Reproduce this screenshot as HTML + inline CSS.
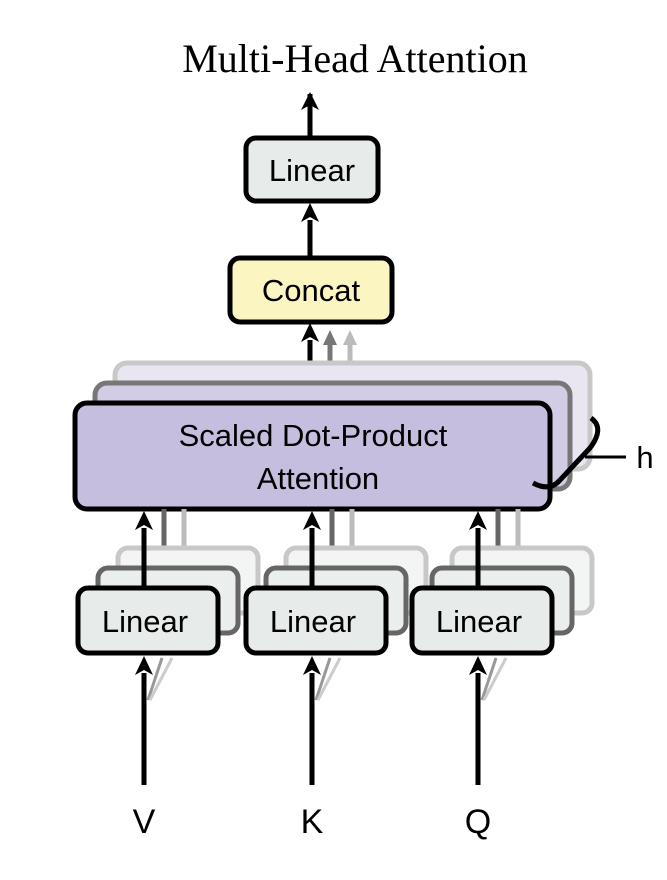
<!DOCTYPE html>
<html><head><style>
body{margin:0;background:#fff;}
</style></head><body>
<svg width="667" height="875" viewBox="0 0 667 875" xmlns="http://www.w3.org/2000/svg" font-family="Liberation Sans, sans-serif">
<defs>
<marker id="a" viewBox="0 0 10 10" refX="5" refY="2" markerWidth="4" markerHeight="4" orient="auto-start-reverse"><path d="M0,10 L5,0 L10,10 L5,7 Z" fill="#000"/></marker>
</defs>
<text x="355" y="72" font-family="Liberation Serif, serif" font-size="40" text-anchor="middle">Multi-Head Attention</text>

<!-- top arrows -->
<line x1="310" y1="138" x2="310" y2="94" stroke="#000" stroke-width="5"/>
<path d="M301,110 L310,92 L319,110 L310,105Z"/>
<line x1="310" y1="258" x2="310" y2="220" stroke="#000" stroke-width="5"/>
<path d="M301,222 L310,203 L319,222 L310,217Z"/>
<rect x="246" y="138" width="132" height="63" rx="10" fill="#e7ecea" stroke="#000" stroke-width="5"/>
<text x="312" y="181" font-size="31" text-anchor="middle">Linear</text>
<rect x="230" y="258" width="162" height="64" rx="10" fill="#fbf5c1" stroke="#000" stroke-width="5"/>
<text x="311" y="301" font-size="31" text-anchor="middle">Concat</text>

<!-- back SDPA arrows -->
<line x1="350" y1="363" x2="350" y2="338" stroke="#bbb" stroke-width="5"/>
<path d="M343,345 L350,330 L357,345Z" fill="#bbb"/>
<line x1="330" y1="383" x2="330" y2="338" stroke="#777" stroke-width="5"/>
<path d="M323,345 L330,330 L337,345Z" fill="#777"/>
<line x1="310" y1="403" x2="310" y2="340" stroke="#000" stroke-width="5"/>
<path d="M301,342 L310,323 L319,342 L310,337Z"/>

<!-- SDPA stack -->
<rect x="115" y="363" width="475" height="106" rx="12" fill="#e9e6f2" stroke="#c8c8c8" stroke-width="5"/>
<rect x="95" y="383" width="475" height="106" rx="12" fill="#d2cce4" stroke="#777" stroke-width="5"/>
<rect x="75" y="403" width="475" height="106" rx="12" fill="#c5bedf" stroke="#000" stroke-width="5"/>
<text x="313" y="446" font-size="31" text-anchor="middle">Scaled Dot-Product</text>
<text x="318" y="489" font-size="31" text-anchor="middle">Attention</text>
<path d="M591,418 Q605,428 590,448 L560,480 Q550,492 533,483" fill="none" stroke="#000" stroke-width="5"/>
<line x1="585" y1="457" x2="626" y2="457" stroke="#000" stroke-width="3"/>
<text x="645" y="468" font-size="31" text-anchor="middle">h</text>

<!-- Linear stacks -->
<g id="lin">
<line x1="184" y1="548" x2="184" y2="509" stroke="#bbb" stroke-width="5"/>
<line x1="164" y1="568" x2="164" y2="509" stroke="#666" stroke-width="5"/>
<rect x="118" y="548" width="140" height="65" rx="10" fill="#f3f5f4" stroke="#c8c8c8" stroke-width="5"/>
<rect x="98" y="568" width="140" height="65" rx="10" fill="#eaeeec" stroke="#666" stroke-width="5"/>
<line x1="144" y1="588" x2="144" y2="528" stroke="#000" stroke-width="5"/>
<path d="M135,530 L144,511 L153,530 L144,525Z"/>
<rect x="78" y="588" width="140" height="65" rx="10" fill="#e7ecea" stroke="#000" stroke-width="5"/>
<text x="145" y="632" font-size="31" text-anchor="middle">Linear</text>
<line x1="148" y1="700" x2="162" y2="658" stroke="#999" stroke-width="3"/>
<line x1="150" y1="700" x2="172" y2="658" stroke="#ccc" stroke-width="3"/>
<line x1="144" y1="785" x2="144" y2="673" stroke="#000" stroke-width="5"/>
<path d="M135,675 L144,656 L153,675 L144,670Z"/>
</g>
<use href="#lin" transform="translate(168,0)"/>
<use href="#lin" transform="translate(334,0)"/>

<text x="144" y="833" font-size="34" text-anchor="middle">V</text>
<text x="312" y="833" font-size="34" text-anchor="middle">K</text>
<text x="478" y="833" font-size="34" text-anchor="middle">Q</text>
</svg>
</body></html>
